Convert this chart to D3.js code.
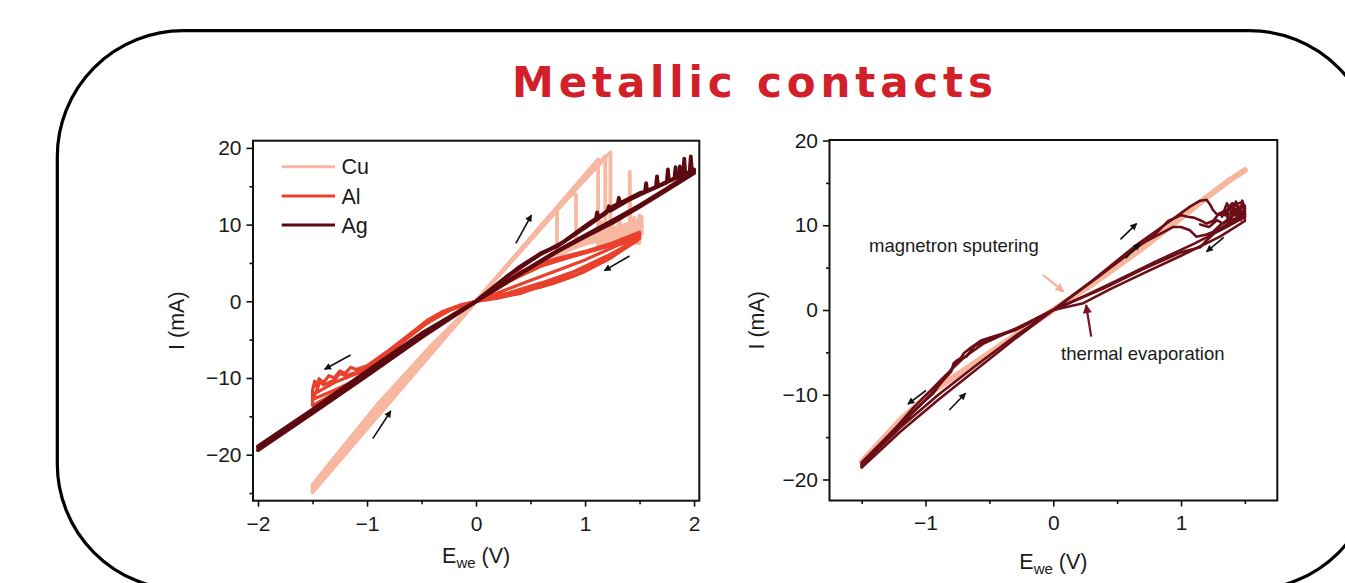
<!DOCTYPE html>
<html>
<head>
<meta charset="utf-8">
<script src="https://cdn.jsdelivr.net/npm/d3@7"></script>
<style>
  body { margin: 0; background: #fff; }
  svg { display: block; font-family: "Liberation Sans", Arial, sans-serif; }
  .tick text { font-size: 21px; fill: #1a1a1a; }
  .tick line { stroke: #111; stroke-width: 1.6; }
  .axisText { font-size: 21.5px; fill: #1a1a1a; }
  .noteText { font-size: 18.5px; fill: #1a1a1a; }
</style>
</head>
<body>
<div id="figure"></div>
<script>
// ---- values: [E_we (V), I (mA)] ----

// left panel: metals
var leftNames = ["Cu", "Al", "Ag"];
var leftColors = ["#f7b7a0", "#e8412c", "#5c0a10"];

var cuSweeps = [
  [[-1.5,-24.8],[-1.0,-16.4],[-0.5,-8.2],[0,0],[0.6,9.9],[1.233,19.4],[1.233,8.4],[1.5,10.4],[1.5,8.2],[1.25,8.6],[1.0,8.1],[0.75,6.3],[0.5,4.3],[0.25,2.2],[0,0],[-0.5,-7.6],[-1.0,-15.6],[-1.5,-24.2]],
  [[-1.5,-24.5],[-0.9,-14.9],[-0.45,-7.4],[0,0],[1.186,18.9],[1.186,8.0],[1.3,8.5],[1.41,9.1],[1.41,16.9],[1.415,9.3],[1.5,10.0],[1.5,7.6],[1.2,8.0],[0.9,7.4],[0.6,5.1],[0.3,2.6],[0,0],[-0.4,-5.6],[-0.9,-13.4],[-1.5,-23.9]],
  [[-1.5,-24.9],[0,0],[1.12,18.5],[1.12,7.3],[1.3,8.2],[1.5,9.3],[1.5,11.2],[1.48,8.0],[1.2,8.4],[0.9,7.0],[0.6,5.0],[0,0]],
  [[0,0],[0.743,12.2],[0.743,6.6],[1.0,8.3],[1.2,9.2],[1.5,10.6]],
  [[0,0],[0.86,13.9],[0.917,13.9],[0.917,7.6],[1.2,9.0],[1.5,10.1]],
  [[1.15,10.4],[1.15,7.8],[1.25,10.6],[1.25,8.0],[1.32,10.4],[1.32,8.2],[1.45,10.9],[1.45,8.6],[1.52,11.0],[1.52,8.8]]
];

var alSweeps = [
  [[0,0],[0.2,2.1],[0.4,3.8],[0.56,4.8],[0.8,5.8],[1.02,6.6],[1.25,7.6],[1.5,9.0],[1.5,8.3],[1.23,5.6],[1.0,3.9],[0.8,2.8],[0.6,1.9],[0.4,1.2],[0.2,0.5],[0,0],
   [-0.15,-0.5],[-0.3,-1.3],[-0.45,-2.5],[-0.6,-4.2],[-0.8,-6.4],[-1.0,-8.4],[-1.1,-8.9],[-1.15,-8.6],[-1.2,-9.4],[-1.25,-9.1],[-1.3,-10.0],[-1.35,-9.7],[-1.4,-10.6],[-1.44,-10.1],[-1.46,-11.2],[-1.48,-10.4],[-1.5,-11.6],[-1.5,-13.6],[-1.2,-11.2],[-1.0,-9.2],[-0.7,-6.4],[-0.4,-3.6],[-0.2,-1.6],[0,0]],
  [[0,0],[0.2,1.9],[0.45,4.0],[0.7,5.2],[1.0,6.3],[1.25,7.3],[1.5,8.7],[1.48,7.9],[1.2,5.4],[0.9,3.3],[0.7,2.3],[0.45,1.3],[0.2,0.4],[0,0],
   [-0.2,-0.9],[-0.4,-2.3],[-0.6,-4.5],[-0.8,-6.8],[-1.0,-8.7],[-1.1,-9.3],[-1.2,-9.7],[-1.25,-9.4],[-1.3,-10.3],[-1.4,-10.9],[-1.43,-10.4],[-1.46,-11.6],[-1.5,-12.8],[-1.3,-11.6],[-1.0,-9.6],[-0.6,-5.6],[0,0]],
  [[0,0],[0.3,2.6],[0.6,4.6],[0.9,5.9],[1.2,7.2],[1.5,8.4],[1.3,6.4],[1.0,4.4],[0.7,2.6],[0.4,1.0],[0,0]],
  [[0,0],[0.3,1.1],[0.6,2.4],[0.9,3.9],[1.2,5.9],[1.5,8.2],[1.3,7.3],[1.0,5.4],[0.7,3.8],[0.4,2.2],[0,0],[-0.25,-1.2],[-0.5,-3.3],[-1.0,-8.9],[-1.3,-10.6],[-1.5,-12.2]]
];

var agSweeps = [
  [[-2,-19.4],[-1.5,-14.6],[-1.0,-9.7],[-0.5,-4.7],[0,0],[0.2,2.3],[0.4,4.5],[0.6,6.3],[0.75,7.2],[1.0,9.8],[1.1,10.8],[1.11,11.6],[1.12,10.9],[1.26,12.4],[1.3,12.7],[1.31,13.5],[1.32,12.8],[1.5,14.1],[1.55,14.3],[1.56,15.4],[1.57,14.4],[1.65,14.9],[1.66,16.3],[1.67,15.0],[1.75,15.6],[1.76,17.2],[1.77,15.7],[1.82,16.0],[1.83,17.5],[1.84,16.1],[1.9,16.5],[1.91,18.6],[1.92,16.6],[1.96,16.9],[1.97,18.9],[1.98,17.0],[2.0,17.2],
   [2.0,16.7],[1.75,14.5],[1.5,12.3],[1.26,10.3],[1.0,8.4],[0.75,6.5],[0.5,4.4],[0.25,2.2],[0,0],[-0.5,-4.2],[-1.0,-9.1],[-1.5,-14.1],[-2,-18.9]],
  [[-2,-19.1],[-1.5,-14.3],[-1.0,-9.3],[-0.5,-4.4],[0,0],[0.3,3.4],[0.6,6.2],[0.8,7.7],[1.0,9.6],[1.2,11.6],[1.22,12.4],[1.23,11.8],[1.4,13.2],[1.5,13.9],[1.75,15.5],[1.86,16.3],[1.87,17.6],[1.88,16.4],[2.0,17.0],
   [1.75,14.7],[1.5,12.5],[1.25,10.5],[1.0,8.6],[0.7,6.2],[0.4,3.6],[0,0]]
];

var leftSweeps = [cuSweeps, alSweeps, agSweeps];

// sweep direction arrows [x1, y1, x2, y2]
var leftArrows = [
  [0.365, 7.56, 0.508, 11.25],
  [1.407, 5.9, 1.177, 4.0],
  [-1.151, -7.0, -1.389, -8.87],
  [-0.947, -17.9, -0.782, -14.3]
];

// right panel: deposition method
var rightNames = ["magnetron sputering", "thermal evaporation"];
var rightColors = ["#f7b59c", "#6b0e17"];

var magSweeps = [
  [[-1.5,-17.9],[-1.2,-13.0],[-0.944,-9.6],[-0.6,-6.1],[-0.3,-3.0],[0,0],[0.3,3.0],[0.68,7.1],[0.9,9.7],[1.2,13.3],[1.36,15.1],[1.5,16.5]]
];

var thermSweeps = [
  [[0,0],[0.3,3.4],[0.653,7.7],[0.888,10.2],[1.07,12.2],[1.15,12.9],[1.2,13.0],[1.23,12.4],[1.25,11.8],[1.28,11.3],[1.35,11.2],[1.38,11.9],[1.42,12.4],[1.47,12.7],[1.5,12.3],[1.5,11.0],[1.36,9.8],[1.1,7.8],[0.8,5.7],[0.5,3.5],[0.25,1.7],[0,0]],
  [[0,0],[0.35,3.9],[0.7,7.9],[0.94,9.8],[1.0,9.8],[1.07,9.4],[1.12,8.65],[1.2,8.9],[1.25,9.2],[1.32,10.2],[1.4,10.6],[1.5,11.4],[1.5,10.5],[1.305,8.65],[1.0,6.4],[0.7,4.3],[0.45,2.5],[0.235,0.8],[0,0]],
  [[0,0],[0.4,4.5],[0.8,9.0],[0.9,10.5],[1.0,11.2],[1.05,11.0],[1.1,10.9],[1.15,10.6],[1.2,10.2],[1.25,10.5],[1.3,11.4],[1.36,11.8],[1.4,12.6],[1.45,12.2],[1.5,12.0],[1.45,10.8],[1.3,9.6],[1.2,8.2],[1.15,7.4],[1.0,6.8],[0.7,4.8],[0.4,2.6],[0,0]],
  [[1.32,11.0],[1.36,12.6],[1.4,11.4],[1.43,12.8],[1.46,11.2],[1.48,12.9],[1.5,11.8],[1.47,10.6],[1.42,11.6],[1.38,10.4],[1.34,11.8],[1.37,11.2],[1.44,12.0],[1.49,12.4],[1.45,11.5],[1.4,12.1]],
  [[1.15,10.1],[1.22,9.8],[1.28,10.6],[1.33,10.2],[1.4,11.2],[1.5,11.0]],
  [[0,0],[-0.12,-0.9],[-0.242,-1.97],[-0.4,-2.8],[-0.566,-3.6],[-0.65,-4.5],[-0.7,-5.1],[-0.72,-5.6],[-0.78,-6.3],[-0.8,-7.3],[-0.86,-8.2],[-0.944,-9.9],[-1.2,-13.4],[-1.5,-18.0],
   [-1.5,-18.6],[-1.2,-14.4],[-0.9,-10.6],[-0.6,-7.0],[-0.3,-3.4],[0,0]],
  [[0,0],[-0.3,-2.4],[-0.5,-3.4],[-0.62,-4.3],[-0.68,-5.5],[-0.76,-6.0],[-0.82,-7.6],[-1.0,-10.6],[-1.5,-18.2],
   [-1.5,-18.3],[-1.2,-13.9],[-0.9,-10.0],[-0.6,-6.5],[-0.3,-3.1],[0,0]],
  [[0,0],[-0.35,-2.6],[-0.55,-4.0],[-0.7,-5.6],[-0.85,-7.8],[-1.1,-11.6],[-1.5,-18.5]]
];

var rightSweeps = [magSweeps, thermSweeps];

var rightArrows = [
  [0.526, 8.34, 0.653, 10.2],
  [0.567, 6.1, 0.675, 7.87],
  [1.335, 8.58, 1.2, 6.88],
  [-0.997, -9.5, -1.138, -11.1],
  [-0.814, -11.8, -0.687, -9.83]
];

// label arrows for the two methods [x1, y1, x2, y2]
var magNoteArrow = [-0.08, 4.13, 0.081, 2.16];
var thermNoteArrow = [0.297, -3.15, 0.257, 0.59];

// ticks
var leftXTicks = [-2, -1, 0, 1, 2];
var leftXMinor = [-1.5, -0.5, 0.5, 1.5];
var leftYTicks = [-20, -10, 0, 10, 20];
var leftYMinor = [-25, -15, -5, 5, 15];
var rightXTicks = [-1, 0, 1];
var rightXMinor = [-1.5, -0.5, 0.5, 1.5];
var rightYTicks = [-20, -10, 0, 10, 20];
var rightYMinor = [-15, -5, 5, 15];

// ---- drawing ----
var svgWidth = 1345;
var svgHeight = 583;

var svg = d3.select("#figure")
  .append("svg")
  .attr("width", svgWidth)
  .attr("height", svgHeight);

var defs = svg.append("defs");

function addMarker(id, color, w, h) {
  defs.append("marker")
    .attr("id", id)
    .attr("viewBox", "0 0 10 10")
    .attr("refX", 9)
    .attr("refY", 5)
    .attr("markerUnits", "userSpaceOnUse")
    .attr("markerWidth", w)
    .attr("markerHeight", h)
    .attr("orient", "auto")
    .append("path")
    .attr("d", "M0,0 L10,5 L0,10 z")
    .attr("fill", color);
}
addMarker("headBlack", "#111", 8, 7);
addMarker("headPeach", "#f5b096", 10, 9);
addMarker("headDark", "#7a1620", 10, 9);

// rounded outline box
svg.append("rect")
  .attr("x", 57.3)
  .attr("y", 30.7)
  .attr("width", 1318)
  .attr("height", 559)
  .attr("rx", 126)
  .attr("ry", 126)
  .attr("fill", "none")
  .attr("stroke", "#000")
  .attr("stroke-width", 3.2);

// title
svg.append("text")
  .attr("x", 752.5)
  .attr("y", 97)
  .attr("text-anchor", "middle")
  .attr("textLength", 481)
  .attr("lengthAdjust", "spacing")
  .attr("font-family", "'DejaVu Sans', Verdana, sans-serif")
  .attr("font-weight", "bold")
  .attr("font-size", "42px")
  .attr("fill", "#d1202a")
  .text("Metallic contacts");

function drawPanel(p) {
  var x = d3.scaleLinear().domain(p.xDomain).range([p.left, p.right]);
  var y = d3.scaleLinear().domain(p.yDomain).range([p.bottom, p.top]);
  var g = svg.append("g");

  defs.append("clipPath")
    .attr("id", p.id + "Clip")
    .append("rect")
    .attr("x", p.left)
    .attr("y", p.top)
    .attr("width", p.right - p.left)
    .attr("height", p.bottom - p.top);

  // x axis, major + minor
  g.append("g")
    .attr("transform", `translate(0, ${p.bottom})`)
    .call(d3.axisBottom(x).tickValues(p.xTicks).tickSize(6).tickPadding(9).tickFormat(d3.format("d")))
    .call(a => a.select(".domain").remove());
  g.append("g")
    .attr("transform", `translate(0, ${p.bottom})`)
    .call(d3.axisBottom(x).tickValues(p.xMinor).tickSize(3.5).tickFormat(""))
    .call(a => a.select(".domain").remove());

  // y axis, major + minor
  g.append("g")
    .attr("transform", `translate(${p.left}, 0)`)
    .call(d3.axisLeft(y).tickValues(p.yTicks).tickSize(6.5).tickPadding(5).tickFormat(d3.format("d")))
    .call(a => a.select(".domain").remove());
  g.append("g")
    .attr("transform", `translate(${p.left}, 0)`)
    .call(d3.axisLeft(y).tickValues(p.yMinor).tickSize(3.5).tickFormat(""))
    .call(a => a.select(".domain").remove());

  g.selectAll(".tick text").attr("font-family", null).attr("font-size", null);

  // axis titles
  var xt = g.append("text")
    .attr("class", "axisText")
    .attr("x", (p.left + p.right) / 2)
    .attr("y", p.xTitleY)
    .attr("text-anchor", "middle");
  xt.append("tspan").text("E");
  xt.append("tspan").attr("font-size", "15px").attr("dy", 5).text("we");
  xt.append("tspan").attr("dy", -5).text(" (V)");

  g.append("text")
    .attr("class", "axisText")
    .attr("transform", `translate(${p.yTitleX}, ${(p.top + p.bottom) / 2}) rotate(-90)`)
    .attr("text-anchor", "middle")
    .attr("dy", "0.36em")
    .text("I (mA)");

  // curves
  var line = d3.line()
    .x(d => x(d[0]))
    .y(d => y(d[1]));

  var plot = g.append("g").attr("clip-path", `url(#${p.id}Clip)`);
  p.sweeps.forEach(function(series, i) {
    plot.append("g")
      .selectAll("path")
      .data(series)
      .enter()
      .append("path")
      .attr("d", line)
      .attr("fill", "none")
      .attr("stroke", p.colors[i])
      .attr("stroke-width", p.widths[i])
      .attr("stroke-linejoin", "round")
      .attr("stroke-linecap", "round");
  });

  // sweep arrows
  g.selectAll(".sweepArrow")
    .data(p.arrows)
    .enter()
    .append("line")
    .attr("x1", d => x(d[0]))
    .attr("y1", d => y(d[1]))
    .attr("x2", d => x(d[2]))
    .attr("y2", d => y(d[3]))
    .attr("stroke", "#111")
    .attr("stroke-width", 1.6)
    .attr("marker-end", "url(#headBlack)");

  // frame
  g.append("rect")
    .attr("x", p.left)
    .attr("y", p.top)
    .attr("width", p.right - p.left)
    .attr("height", p.bottom - p.top)
    .attr("fill", "none")
    .attr("stroke", "#111")
    .attr("stroke-width", 2);

  return { x: x, y: y, g: g };
}

var leftPanel = drawPanel({
  id: "left",
  left: 253, right: 699.3, top: 140.7, bottom: 500.7,
  xDomain: [-2.046, 2.048], yDomain: [-26.0, 20.94],
  xTicks: leftXTicks, xMinor: leftXMinor, yTicks: leftYTicks, yMinor: leftYMinor,
  xTitleY: 563, yTitleX: 176,
  sweeps: leftSweeps, colors: leftColors, widths: [3.8, 3.2, 3.8],
  arrows: leftArrows
});

var rightPanel = drawPanel({
  id: "right",
  left: 829.5, right: 1277.3, top: 140, bottom: 500.5,
  xDomain: [-1.752, 1.754], yDomain: [-22.48, 20.06],
  xTicks: rightXTicks, xMinor: rightXMinor, yTicks: rightYTicks, yMinor: rightYMinor,
  xTitleY: 569, yTitleX: 756,
  sweeps: rightSweeps, colors: rightColors, widths: [6, 2.6],
  arrows: rightArrows
});

// legend (left panel)
var legend = leftPanel.g.append("g");
leftNames.forEach(function(name, i) {
  var ly = 166.7 + i * 29.2;
  legend.append("line")
    .attr("x1", 281.7).attr("x2", 335)
    .attr("y1", ly).attr("y2", ly)
    .attr("stroke", leftColors[i])
    .attr("stroke-width", 3);
  legend.append("text")
    .attr("class", "axisText")
    .attr("x", 341.5)
    .attr("y", ly)
    .attr("dy", "0.36em")
    .text(name);
});

// method notes (right panel)
var rx = rightPanel.x, ry = rightPanel.y;
rightPanel.g.append("text")
  .attr("class", "noteText")
  .attr("x", 869)
  .attr("y", 252)
  .text(rightNames[0]);
rightPanel.g.append("text")
  .attr("class", "noteText")
  .attr("x", 1061)
  .attr("y", 360)
  .text(rightNames[1]);

rightPanel.g.append("line")
  .attr("x1", rx(magNoteArrow[0])).attr("y1", ry(magNoteArrow[1]))
  .attr("x2", rx(magNoteArrow[2])).attr("y2", ry(magNoteArrow[3]))
  .attr("stroke", "#f5b096")
  .attr("stroke-width", 2.2)
  .attr("marker-end", "url(#headPeach)");
rightPanel.g.append("line")
  .attr("x1", rx(thermNoteArrow[0])).attr("y1", ry(thermNoteArrow[1]))
  .attr("x2", rx(thermNoteArrow[2])).attr("y2", ry(thermNoteArrow[3]))
  .attr("stroke", "#7a1620")
  .attr("stroke-width", 2.2)
  .attr("marker-end", "url(#headDark)");
</script>
</body>
</html>
